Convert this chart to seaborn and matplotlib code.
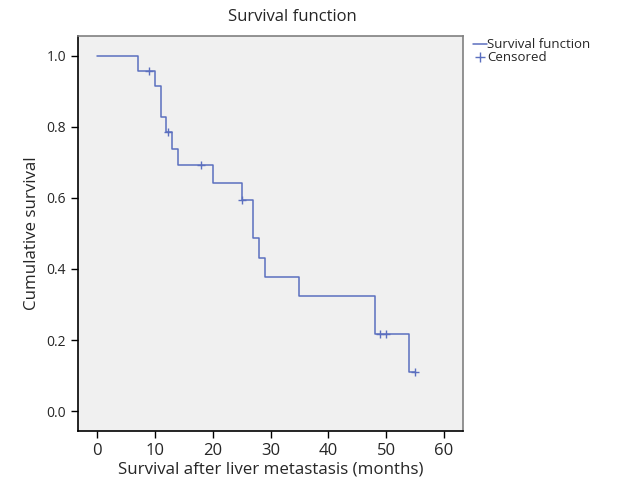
import pandas as pd
import seaborn as sns
import matplotlib.pyplot as plt
from matplotlib.lines import Line2D

# step points of the Kaplan-Meier curve (time in months, survival after step)
step_time = [0, 7, 10, 11, 12, 13, 14, 20, 25, 27, 28, 29, 35, 48, 54, 55]
step_surv = [1.0, 0.958, 0.915, 0.827, 0.785, 0.739, 0.692, 0.642, 0.593, 0.486,
             0.432, 0.378, 0.324, 0.217, 0.109, 0.109]

# censored observations
cens_time = [9, 12.2, 18, 25, 49, 50, 55]
cens_surv = [0.958, 0.785, 0.692, 0.593, 0.217, 0.217, 0.109]

x_ticks = [0, 10, 20, 30, 40, 50, 60]
y_ticks = [0.0, 0.2, 0.4, 0.6, 0.8, 1.0]

sns.set_style("ticks")
plt.rcParams['font.family'] = ['Open Sans', 'DejaVu Sans']

curve = pd.DataFrame({'time': step_time, 'surv': step_surv})
cens = pd.DataFrame({'time': cens_time, 'surv': cens_surv})

line_col = '#5b6fbf'

fig = plt.figure(figsize=(6.23, 4.86), dpi=100)
ax = fig.add_axes([0.1252, 0.1132, 0.618, 0.8128])
ax.set_facecolor('#f0f0f0')

sns.lineplot(data=curve, x='time', y='surv', drawstyle='steps-post', color=line_col,
             linewidth=1.1, ax=ax, legend=False)
sns.scatterplot(data=cens, x='time', y='surv', marker='+', color=line_col, s=30,
                linewidth=1.0, ax=ax, legend=False)

ax.set_xlim(-3.3, 63.3)
ax.set_ylim(-0.056, 1.056)
ax.set_xticks(x_ticks)
ax.set_yticks(y_ticks)
ax.set_yticklabels([f'{v:.1f}' for v in y_ticks])
ax.tick_params(axis='x', labelsize=12, length=5, width=1, color='black', direction='out')
ax.tick_params(axis='y', labelsize=10, length=5, width=1, color='black', direction='out')

for side in ['left', 'bottom']:
    ax.spines[side].set_color('black')
    ax.spines[side].set_linewidth(1.2)
for side in ['top', 'right']:
    ax.spines[side].set_visible(True)
    ax.spines[side].set_color('#808080')
    ax.spines[side].set_linewidth(1.2)

ax.set_xlabel('Survival after liver metastasis (months)', fontsize=12.2, labelpad=2)
ax.set_ylabel('Cumulative survival', fontsize=12.2, labelpad=5)
fig.text(0.469, 0.965, 'Survival function', ha='center', va='center', fontsize=12)

handles = [Line2D([], [], color=line_col, lw=1.1, drawstyle='steps-post'),
           Line2D([], [], color=line_col, marker='+', lw=0, markersize=7)]
fig.legend(handles, ['Survival function', 'Censored'], loc='upper left',
           bbox_to_anchor=(0.745, 0.94), frameon=False, fontsize=9.5,
           handlelength=1.0, handletextpad=0.05, labelspacing=0.0, borderpad=0.2)

plt.savefig('out.png', dpi=100)
